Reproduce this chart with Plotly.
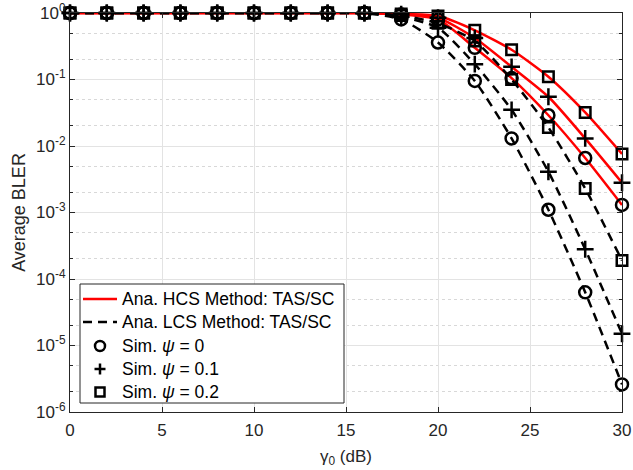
import plotly.graph_objects as go

# SNR grid (dB)
snr_db = [0, 2, 4, 6, 8, 10, 12, 14, 16, 18, 20, 22, 24, 26, 28, 30]

# Average BLER, high-complexity (HCS) analysis, TAS/SC
hcs_psi0 = [1, 1, 1, 1, 1, 1, 1, 1, 0.999, 0.95, 0.80, 0.30, 0.105, 2.9e-2, 6.6e-3, 1.3e-3]
hcs_psi1 = [1, 1, 1, 1, 1, 1, 1, 1, 0.999, 0.96, 0.85, 0.42, 0.155, 5.5e-2, 1.3e-2, 2.8e-3]
hcs_psi2 = [1, 1, 1, 1, 1, 1, 1, 1, 0.999, 0.97, 0.90, 0.55, 0.28, 0.11, 3.2e-2, 7.6e-3]

# Average BLER, low-complexity (LCS) analysis, TAS/SC
lcs_psi0 = [1, 1, 1, 1, 1, 1, 1, 1, 0.998, 0.80, 0.36, 9.5e-2, 1.3e-2, 1.1e-3, 6.3e-5, 2.6e-6]
lcs_psi1 = [1, 1, 1, 1, 1, 1, 1, 1, 0.998, 0.88, 0.60, 0.17, 3.5e-2, 4.1e-3, 2.8e-4, 1.5e-5]
lcs_psi2 = [1, 1, 1, 1, 1, 1, 1, 1, 0.999, 0.92, 0.70, 0.38, 0.10, 1.9e-2, 2.3e-3, 1.9e-4]

psi_labels = ["0", "0.1", "0.2"]
legend_labels = ["Ana. HCS Method: TAS/SC", "Ana. LCS Method: TAS/SC",
                 "Sim. <i>ψ</i> = 0", "Sim. <i>ψ</i> = 0.1", "Sim. <i>ψ</i> = 0.2"]
y_tick_vals = [1e-6, 1e-5, 1e-4, 1e-3, 1e-2, 1e-1, 1]
y_tick_text = ["10<sup>-6</sup>", "10<sup>-5</sup>", "10<sup>-4</sup>", "10<sup>-3</sup>",
               "10<sup>-2</sup>", "10<sup>-1</sup>", "10<sup>0</sup>"]

W, H = 633, 470
ML, MR, MT, MB = 70, 11, 13, 58
PW, PH = W - ML - MR, H - MT - MB

AX = "#262626"
GRID = "#e3e3e3"
FONT = "Liberation Sans, Arial, sans-serif"
LINE_W = 2.5


def px_x(px):
    return (px - ML) / PW


def px_y(py):
    return (H - MB - py) / PH


fig = go.Figure()

hcs = [hcs_psi0, hcs_psi1, hcs_psi2]
lcs = [lcs_psi0, lcs_psi1, lcs_psi2]

for ys in hcs:
    fig.add_trace(go.Scatter(
        x=snr_db, y=ys, mode="lines", name="Ana. HCS Method: TAS/SC",
        line=dict(color="#ff0000", width=LINE_W, shape="spline", smoothing=0.6),
        cliponaxis=False))

for ys in lcs:
    fig.add_trace(go.Scatter(
        x=snr_db, y=ys, mode="lines", name="Ana. LCS Method: TAS/SC",
        line=dict(color="black", width=LINE_W, dash="9px,6px", shape="spline", smoothing=0.6),
        cliponaxis=False))

symbols = ["circle-open", "cross-thin-open", "square-open"]
sizes = [12, 12, 10.5]
for i in range(3):
    fig.add_trace(go.Scatter(
        x=snr_db + [None] + snr_db,
        y=hcs[i] + [None] + lcs[i],
        mode="markers", name=f"Sim. ψ = {psi_labels[i]}",
        marker=dict(symbol=symbols[i], size=sizes[i], color="black",
                    line=dict(color="black", width=LINE_W)),
        cliponaxis=False))

# ---- legend box (compact, MATLAB-style) ----
box_l, box_r, box_t, box_b = 80, 344, 284, 403
row_y = [299, 322, 346, 369, 392]
sample_x0, sample_x1, text_x = 83, 117, 120
sym_cx = 100

shapes = [dict(type="rect", xref="paper", yref="paper",
               x0=px_x(box_l), x1=px_x(box_r), y0=px_y(box_b), y1=px_y(box_t),
               line=dict(color=AX, width=1), fillcolor="white", layer="above")]
# line samples
shapes.append(dict(type="line", xref="paper", yref="paper",
                   x0=px_x(sample_x0), x1=px_x(sample_x1), y0=px_y(row_y[0]), y1=px_y(row_y[0]),
                   line=dict(color="#ff0000", width=LINE_W), layer="above"))
shapes.append(dict(type="line", xref="paper", yref="paper",
                   x0=px_x(sample_x0), x1=px_x(sample_x1), y0=px_y(row_y[1]), y1=px_y(row_y[1]),
                   line=dict(color="black", width=LINE_W, dash="9px,6px"), layer="above"))
# circle sample
r = 5
shapes.append(dict(type="circle", xref="paper", yref="paper",
                   x0=px_x(sym_cx - r), x1=px_x(sym_cx + r),
                   y0=px_y(row_y[2] + r), y1=px_y(row_y[2] - r),
                   line=dict(color="black", width=LINE_W), layer="above"))
# plus sample
p = 5.5
shapes.append(dict(type="line", xref="paper", yref="paper",
                   x0=px_x(sym_cx - p), x1=px_x(sym_cx + p), y0=px_y(row_y[3]), y1=px_y(row_y[3]),
                   line=dict(color="black", width=LINE_W), layer="above"))
shapes.append(dict(type="line", xref="paper", yref="paper",
                   x0=px_x(sym_cx), x1=px_x(sym_cx), y0=px_y(row_y[3] - p), y1=px_y(row_y[3] + p),
                   line=dict(color="black", width=LINE_W), layer="above"))
# square sample
s = 4.5
shapes.append(dict(type="rect", xref="paper", yref="paper",
                   x0=px_x(sym_cx - s), x1=px_x(sym_cx + s),
                   y0=px_y(row_y[4] + s), y1=px_y(row_y[4] - s),
                   line=dict(color="black", width=LINE_W), layer="above"))

annotations = [dict(text=lbl, xref="paper", yref="paper", x=px_x(text_x), y=px_y(yy),
                    xanchor="left", yanchor="middle", showarrow=False,
                    font=dict(family=FONT, size=17.5, color="black"))
               for lbl, yy in zip(legend_labels, row_y)]

fig.update_layout(
    width=W, height=H,
    margin=dict(l=ML, r=MR, t=MT, b=MB),
    paper_bgcolor="white", plot_bgcolor="white",
    font=dict(family=FONT, size=17, color=AX),
    showlegend=False,
    shapes=shapes,
    annotations=annotations,
    xaxis=dict(
        range=[0, 30], tickvals=[0, 5, 10, 15, 20, 25, 30],
        ticks="inside", ticklen=5, tickcolor=AX, automargin=False,
        showline=True, linecolor=AX, linewidth=1, mirror="ticks",
        showgrid=True, gridcolor=GRID, gridwidth=1, zeroline=False,
        ticklabelstandoff=3,
        title=dict(text="γ<sub>0</sub> (dB)", standoff=10, font=dict(size=17)),
        tickfont=dict(size=17)),
    yaxis=dict(
        type="log", range=[-6, 0],
        tickvals=y_tick_vals, ticktext=y_tick_text,
        ticks="inside", ticklen=5, tickcolor=AX, automargin=False,
        showline=True, linecolor=AX, linewidth=1, mirror="ticks",
        showgrid=True, gridcolor=GRID, gridwidth=1, zeroline=False,
        minor=dict(ticks="inside", ticklen=3, tickcolor=AX,
                   showgrid=True, gridcolor="#d8d8d8", griddash="dot"),
        title=dict(text="Average BLER", standoff=5, font=dict(size=18)),
        tickfont=dict(size=17)),
)

fig.write_html("out.html")
